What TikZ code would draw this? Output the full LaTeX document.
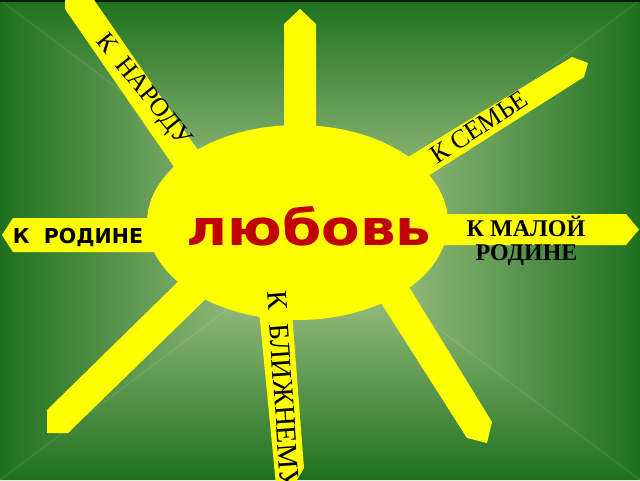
\documentclass[tikz,border=0pt]{standalone}
\usepackage{fontspec}
\setmainfont{Liberation Serif}
\newfontfamily\dvs{DejaVu Sans}
\definecolor{gdark}{HTML}{1E711E}
\definecolor{glight}{HTML}{BAD29A}
\definecolor{sunyellow}{HTML}{FFFF00}
\definecolor{lovered}{HTML}{C00000}
\begin{document}
\begin{tikzpicture}[x=0.75pt,y=-0.75pt,
  ray/.style={fill=sunyellow},
  serlabel/.style={inner sep=0pt,text=black,font=\fontsize{19.5}{19.5}\selectfont},
  serbold/.style={inner sep=0pt,text=black,font=\fontsize{18}{18}\selectfont\bfseries},
  sanlabel/.style={inner sep=0pt,text=black,font=\dvs\bfseries\fontsize{15.4}{15.4}\selectfont},
  lovetext/.style={inner sep=0pt,text=lovered,font=\dvs\bfseries\fontsize{37}{37}\selectfont}]
\useasboundingbox (0,0) rectangle (640,480);
% background gradient
\shade[top color=gdark,bottom color=glight] (0,0) -- (640,0) -- (320,240) -- cycle;
\shade[top color=glight,bottom color=gdark] (0,480) -- (640,480) -- (320,240) -- cycle;
\shade[left color=gdark,right color=glight] (0,0) -- (0,480) -- (320,240) -- cycle;
\shade[left color=glight,right color=gdark] (640,0) -- (640,480) -- (320,240) -- cycle;
\fill[black!75!gdark] (0,0) rectangle (640,1.5);
% rays
\fill[ray] (284,230) -- (284,24) -- (300,9) -- (316,24) -- (316,230) -- cycle;
\fill[ray] (190,190) -- (65,9) -- (65,-3) -- (92,-3) -- (215,175) -- cycle;
\fill[ray] (382,173) -- (572,57) -- (588,63) -- (584,77) -- (401,193) -- cycle;
\fill[ray] (430,214) -- (626,214) -- (639,229.5) -- (626,245) -- (430,245) -- cycle;
\fill[ray] (170,218) -- (13,218) -- (2,235) -- (13,252) -- (170,252) -- cycle;
\fill[ray] (192,268) -- (47,410) -- (47,433) -- (68,433) -- (217,288) -- cycle;
\fill[ray] (395,264) -- (492,422) -- (487,443) -- (467,438) -- (367,281) -- cycle;
\fill[ray] (258,300) -- (291,300) -- (304,468) -- (294,485) -- (276,485) -- cycle;
% sun body
\fill[sunyellow] (297.5,222.5) ellipse [x radius=112.9pt, y radius=73.1pt];
% texts
\node[lovetext,anchor=base] (love) at (309,245) {\scalebox{1.14}[1]{любовь}};
\node[sanlabel,anchor=base] (rodina) at (78,243) {К\ \ РОДИНЕ};
\node[serbold,anchor=base] (malaya1) at (526,236) {К МАЛОЙ};
\node[serbold,anchor=base] (malaya2) at (526.5,260) {РОДИНЕ};
\node[serlabel,rotate=-51] (narod) at (143,91) {К\ \ НАРОДУ};
\node[serlabel,rotate=33] (semya) at (479,127) {К СЕМЬЕ};
\node[serlabel,rotate=-86,anchor=base west,font=\fontsize{21.5}{21.5}\selectfont] (blizh) at (267,291) {К\ \ БЛИЖНЕМУ};
\end{tikzpicture}
\end{document}
